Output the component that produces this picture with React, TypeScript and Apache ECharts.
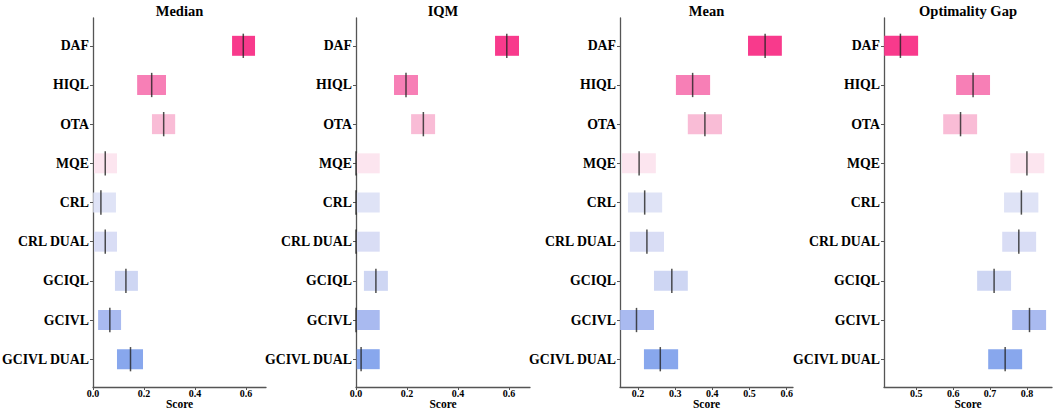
import React, { useEffect, useRef } from "react";
import * as echarts from "echarts";

const CATEGORIES = ["DAF", "HIQL", "OTA", "MQE", "CRL", "CRL DUAL", "GCIQL", "GCIVL", "GCIVL DUAL"];
const COLORS = ["#F83A8C", "#F77FB6", "#F9BCD6", "#FCE5EF", "#DFE3F6", "#D9DDF5", "#CED6F3", "#A9BAF0", "#88A7ED"];

const MEDIAN_LO = [0.545, 0.173, 0.231, 0.004, 0.001, 0.004, 0.086, 0.02, 0.094];
const MEDIAN_HI = [0.635, 0.286, 0.322, 0.094, 0.09, 0.094, 0.176, 0.11, 0.196];
const MEDIAN_MID = [0.589, 0.23, 0.277, 0.048, 0.031, 0.048, 0.129, 0.066, 0.147];

const IQM_LO = [0.545, 0.149, 0.216, 0.003, 0.003, 0.003, 0.031, 0.003, 0.003];
const IQM_HI = [0.639, 0.243, 0.31, 0.093, 0.093, 0.093, 0.125, 0.093, 0.093];
const IQM_MID = [0.591, 0.196, 0.264, 0.0, 0.0, 0.0, 0.078, 0.0, 0.02];

const MEAN_LO = [0.496, 0.302, 0.334, 0.157, 0.173, 0.178, 0.243, 0.152, 0.216];
const MEAN_HI = [0.587, 0.394, 0.426, 0.248, 0.265, 0.27, 0.334, 0.243, 0.308];
const MEAN_MID = [0.542, 0.347, 0.38, 0.203, 0.218, 0.224, 0.291, 0.196, 0.26];

const GAP_LO = [0.413, 0.608, 0.573, 0.755, 0.738, 0.733, 0.665, 0.76, 0.695];
const GAP_HI = [0.505, 0.7, 0.665, 0.847, 0.831, 0.825, 0.757, 0.852, 0.787];
const GAP_MID = [0.457, 0.654, 0.62, 0.8, 0.785, 0.778, 0.711, 0.807, 0.741];

const Y_TICKS = [0, 1, 2, 3, 4, 5, 6, 7, 8];
const TICKS_MEDIAN = [0, 0.2, 0.4, 0.6];
const TICKS_IQM = [0, 0.2, 0.4, 0.6];
const TICKS_MEAN = [0.2, 0.3, 0.4, 0.5, 0.6];
const TICKS_GAP = [0.5, 0.6, 0.7, 0.8];

const PANELS = [
  { title: "Median", lo: MEDIAN_LO, hi: MEDIAN_HI, mid: MEDIAN_MID, ticks: TICKS_MEDIAN, min: 0, max: 0.678, left: 93, width: 173 },
  { title: "IQM", lo: IQM_LO, hi: IQM_HI, mid: IQM_MID, ticks: TICKS_IQM, min: 0, max: 0.682, left: 356, width: 174 },
  { title: "Mean", lo: MEAN_LO, hi: MEAN_HI, mid: MEAN_MID, ticks: TICKS_MEAN, min: 0.1516, max: 0.617, left: 620, width: 173 },
  { title: "Optimality Gap", lo: GAP_LO, hi: GAP_HI, mid: GAP_MID, ticks: TICKS_GAP, min: 0.4125, max: 0.868, left: 884, width: 168 },
];

const FONT = "'Liberation Serif', 'Times New Roman', serif";
const AXIS_COLOR = "#555";
const TOP = 18;
const HEIGHT = 369;
const HALF_BAR = 0.255;
const HALF_LINE = 0.31;

export default function App() {
  const ref = useRef<HTMLDivElement>(null);
  useEffect(() => {
    document.body.style.margin = "0";
    if (!ref.current) return;
    const chart = echarts.init(ref.current, undefined, { renderer: "svg" });

    const renderItem = (params: any, api: any) => {
      const lo = api.value(0);
      const hi = api.value(1);
      const mid = api.value(2);
      const idx = api.value(3);
      const a = api.coord([lo, idx - HALF_BAR]);
      const b = api.coord([hi, idx + HALF_BAR]);
      const cs = params.coordSys;
      const rect = echarts.graphic.clipRectByRect(
        { x: Math.min(a[0], b[0]), y: Math.min(a[1], b[1]), width: Math.abs(b[0] - a[0]), height: Math.abs(b[1] - a[1]) },
        { x: cs.x, y: cs.y, width: cs.width, height: cs.height }
      );
      const m0 = api.coord([mid, idx - HALF_LINE]);
      const m1 = api.coord([mid, idx + HALF_LINE]);
      const children: any[] = [];
      if (rect) children.push({ type: "rect", shape: rect, style: { fill: COLORS[idx] } });
      children.push({
        type: "line",
        shape: { x1: m0[0], y1: m0[1], x2: m1[0], y2: m1[1] },
        style: { stroke: "rgba(35,35,35,0.8)", lineWidth: 1.5 },
      });
      return { type: "group", children };
    };

    const option: any = {
      animation: false,
      backgroundColor: "#ffffff",
      title: PANELS.map((p) => ({
        text: p.title,
        left: p.left + p.width / 2,
        top: 3,
        textAlign: "center",
        padding: 0,
        textStyle: { fontFamily: FONT, fontWeight: "bold", fontSize: 14.5, color: "#000" },
      })),
      grid: PANELS.map((p) => ({
        left: p.left,
        top: TOP,
        width: p.width,
        height: HEIGHT,
        containLabel: false,
        outerBoundsMode: "none",
      })),
      xAxis: PANELS.map((p, i) => ({
        type: "value",
        gridIndex: i,
        min: p.min,
        max: p.max,
        position: "bottom",
        name: "Score",
        nameLocation: "middle",
        nameGap: 11,
        nameMoveOverlap: false,
        nameTextStyle: { fontFamily: FONT, fontWeight: "bold", fontSize: 11.5, color: "#000", verticalAlign: "top" },
        axisLine: { show: true, onZero: false, lineStyle: { color: AXIS_COLOR, width: 1.3 } },
        axisTick: { show: true, length: 3, customValues: p.ticks, lineStyle: { color: AXIS_COLOR } },
        axisLabel: {
          customValues: p.ticks,
          formatter: (v: number) => v.toFixed(1),
          fontFamily: FONT,
          fontWeight: "bold",
          fontSize: 10,
          color: "#000",
          margin: 1,
        },
        splitLine: { show: false },
      })),
      yAxis: PANELS.map((p, i) => ({
        type: "value",
        gridIndex: i,
        inverse: true,
        min: -0.71,
        max: 8.71,
        position: "left",
        axisLine: { show: true, onZero: false, lineStyle: { color: AXIS_COLOR, width: 1.3 } },
        axisTick: { show: true, length: 3, customValues: Y_TICKS, lineStyle: { color: AXIS_COLOR } },
        axisLabel: {
          customValues: Y_TICKS,
          formatter: (v: number) => {
            const k = Math.round(v);
            return Math.abs(v - k) < 1e-6 && CATEGORIES[k] !== undefined ? CATEGORIES[k] : "";
          },
          fontFamily: FONT,
          fontWeight: "bold",
          fontSize: 13.8,
          color: "#000",
          margin: 4,
        },
        splitLine: { show: false },
      })),
      series: PANELS.map((p, i) => ({
        type: "custom",
        xAxisIndex: i,
        yAxisIndex: i,
        renderItem,
        encode: { x: [0, 1, 2], y: 3 },
        data: CATEGORIES.map((_, k) => [p.lo[k], p.hi[k], p.mid[k], k]),
      })),
    };
    chart.setOption(option);
    return () => chart.dispose();
  }, []);
  return <div ref={ref} style={{ width: 1056, height: 409 }} />;
}
